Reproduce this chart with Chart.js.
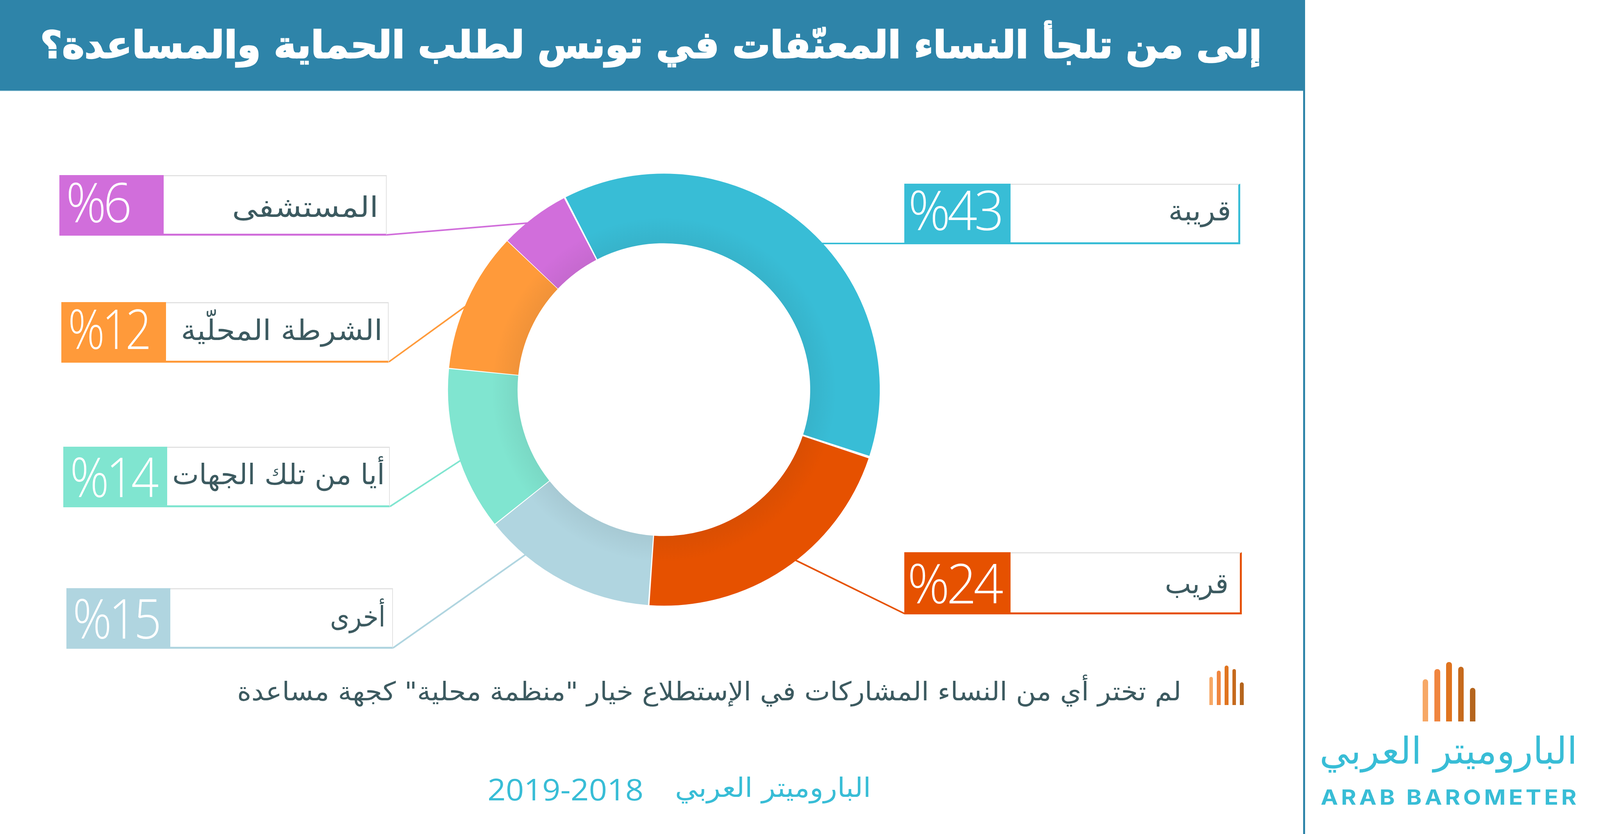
<!DOCTYPE html>
<html lang="ar">
<head>
<meta charset="utf-8">
<title>Arab Barometer</title>
<script src="https://cdn.jsdelivr.net/npm/chart.js@4.4.1/dist/chart.umd.js"></script>
<style>
  html,body{margin:0;padding:0;background:#fff;overflow:hidden;}
  #page{position:relative;height:2134px;overflow:hidden;}
  #chart{position:absolute;left:0;top:0;z-index:2;}
  .abs{position:absolute;box-sizing:border-box;}
  .txt{position:absolute;white-space:nowrap;line-height:1.2;transform-origin:left center;z-index:3;}
</style>
</head>
<body>
<div id="page"><canvas id="chart"></canvas></div>
<script>
const categories=['قريبة','قريب','أخرى','أيا من تلك الجهات','الشرطة المحلّية','المستشفى'];
const values=[43,24,15,14,12,6];
const sliceColors=['#38bdd6','#e65100','#b0d5e0','#80e5d0','#ff9a3a','#d16edb'];
const titleText='إلى من تلجأ النساء المعنّفات في تونس لطلب الحماية والمساعدة؟';
const noteText='لم تختر أي من النساء المشاركات في الإستطلاع خيار "منظمة محلية"  كجهة مساعدة';
const sourceText='الباروميتر العربي';
const yearsText='2019-2018';
const logoArabic='الباروميتر العربي';
const logoLatin='ARAB BAROMETER';
const barColors=['#f7a866','#f0853f','#e0741f','#c66a1d','#b5651d'];

// layout: [left, split, right, top, bottom]
const boxes=[[2412,2695,3308,470,625],[2412,2695,3312,1413,1572],[177,454,1048,1505,1660],[169,446,1040,1143,1298],[164,443,1037,773,928],[158,436,1031,448,603]];
// [left, right, baseline]
const nameFit=[[3116,3284,564],[3106,3276,1518],[880,1028,1603],[459,1026,1239],[482,1020,870],[619,1009,555]];
const pctFit=[[2422,2670,589],[2420,2668,1544],[194,424,1634],[186,416,1272],[181,397,893],[176,344,569]];
// where on its slice each leader line goes in (0 start, 1 end), first one stays level
const leaderAt=[0,0.453,0.755,0.441,0.475,0.418];

// the browser window can come out narrower than 4267, so x positions follow it
const pageW=window.innerWidth, pageH=2134;
const k=pageW/4267;
const X=(x)=>x*k;
const cx=X(1770.5), cy=997, outer=564*(1+k)/2;

const page=document.getElementById('page');
page.style.width=pageW+'px';
const canvas=document.getElementById('chart');
canvas.width=pageW;
canvas.height=pageH;

function rect(x,y,w,h,css){
  const d=document.createElement('div');
  d.className='abs';
  d.style.cssText=`left:${X(x)}px;top:${y}px;width:${X(w)}px;height:${h}px;`+(css||'');
  page.appendChild(d);
  return d;
}

// put text so that it sits on a baseline and fills x0..x1
function put(text,x0,x1,base,size,css,dir){
  const d=document.createElement('div');
  d.className='txt';
  d.dir=dir||'rtl';
  d.style.cssText=`left:${X(x0)}px;top:0;font-size:${size}px;`+css;
  d.textContent=text;
  const strut=document.createElement('span');
  strut.style.cssText='display:inline-block;width:0;height:0;';
  d.appendChild(strut);
  page.appendChild(d);
  d.style.top=(base-strut.getBoundingClientRect().bottom)+'px';
  d.style.transform=`scaleX(${X(x1-x0)/d.offsetWidth})`;
}

function bars(x,step,w,bottom,heights,radius){
  heights.forEach((h,i)=>{
    rect(x+i*step,bottom-h,w,h,`background:${barColors[i]};border-radius:${radius}px ${radius}px 0 0;`);
  });
}

// header and right rule
rect(0,0,3478,234,'background:#2e84a9;border-bottom:2px solid #d7ecf2;');
rect(3475,0,5,pageH,'background:#2e84a9;');
put(titleText,107,3365,148,96,'font-family:"DejaVu Sans";font-weight:700;color:#fff;-webkit-text-stroke:3px #fff;');

// label boxes
categories.forEach((name,i)=>{
  const [l,s,r,t,b]=boxes[i];
  const c=sliceColors[i];
  const rightEdge=i<2?`border-right:5px solid ${c};`:'border-right:2px solid #e2e2e2;';
  rect(s,t,r-s,b-t,`border-top:3px solid #e2e2e2;${rightEdge}border-bottom:5px solid ${c};`);
  rect(l,t,s-l,b-t,`background:${c};`);
  put(name,nameFit[i][0],nameFit[i][1],nameFit[i][2],72,'font-family:"DejaVu Sans";color:#3c5a60;');
  put('%'+values[i],pctFit[i][0],pctFit[i][1],pctFit[i][2],140,'font-family:"Open Sans";font-weight:300;letter-spacing:-8px;color:#fff;','ltr');
});

// note, source, logo
bars(3225,20.5,10,1804,[72,88,101,92,58],5);
put(noteText,632,3150,1792,66,'font-family:"DejaVu Sans";color:#3c5a60;');
put(yearsText,1300,1716,2048,76,'font-family:"Open Sans";color:#38bdd6;','ltr');
put(sourceText,1800,2323,2039,68,'font-family:"DejaVu Sans";color:#38bdd6;');
bars(3794,31.5,15,1846,[108,134,152,140,86],7);
put(logoArabic,3519,4207,1954,95,'font-family:"DejaVu Sans";color:#38bdd6;');
put(logoLatin,3522,4212,2059,54,'font-family:"Inter";font-weight:700;letter-spacing:7px;color:#38bdd6;','ltr');

// leader lines run from the box corner into the ring, behind the slices
const leaderLines={
  id:'leaderLines',
  beforeDatasetsDraw(chart){
    const ctx=chart.ctx;
    chart.getDatasetMeta(0).data.forEach((arc,i)=>{
      const {startAngle,endAngle,outerRadius,x,y}=arc.getProps(['startAngle','endAngle','outerRadius','x','y'],true);
      const a=startAngle+(endAngle-startAngle)*leaderAt[i];
      const [l,,r,,b]=boxes[i];
      const R=outerRadius-4, sy=b-2;
      const ex=i===0 ? x+Math.sqrt(R*R-(sy-y)*(sy-y)) : x+Math.cos(a)*R;
      const ey=i===0 ? sy : y+Math.sin(a)*R;
      ctx.save();
      ctx.strokeStyle=sliceColors[i];
      ctx.lineWidth=4;
      ctx.beginPath();
      ctx.moveTo(X(i<2?l:r),sy);
      ctx.lineTo(ex,ey);
      ctx.stroke();
      ctx.restore();
    });
  }
};

// soft shadow along the inner edge of the ring
const innerShade={
  id:'innerShade',
  afterDatasetsDraw(chart){
    const arc=chart.getDatasetMeta(0).data[0];
    const {innerRadius,x,y}=arc.getProps(['innerRadius','x','y'],true);
    const ctx=chart.ctx;
    const g=ctx.createRadialGradient(x,y,innerRadius,x,y,innerRadius+70);
    g.addColorStop(0,'rgba(40,40,40,0.07)');
    g.addColorStop(1,'rgba(40,40,40,0)');
    ctx.save();
    ctx.globalCompositeOperation='source-atop';
    ctx.fillStyle=g;
    ctx.beginPath();
    ctx.arc(x,y,innerRadius+70,0,Math.PI*2);
    ctx.arc(x,y,innerRadius,0,Math.PI*2,true);
    ctx.fill();
    ctx.restore();
  }
};

new Chart(canvas,{
  type:'doughnut',
  data:{labels:categories,datasets:[{data:values,backgroundColor:sliceColors,borderWidth:0,spacing:6,hoverOffset:0}]},
  plugins:[leaderLines,innerShade],
  options:{
    responsive:false,
    animation:false,
    devicePixelRatio:1,
    rotation:-27.5,
    cutout:'67.6%',
    layout:{padding:{left:cx-outer,right:pageW-cx-outer,top:cy-outer,bottom:pageH-cy-outer}},
    plugins:{legend:{display:false},tooltip:{enabled:false}}
  }
});
</script>
</body>
</html>
